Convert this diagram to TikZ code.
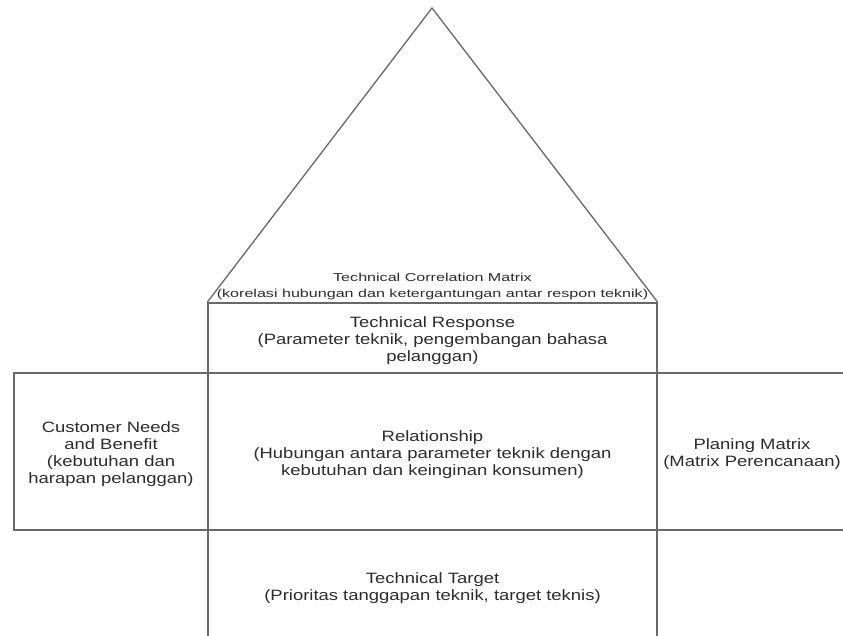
\documentclass[tikz,border=0pt]{standalone}
\usepackage{fontspec}
\setmainfont{Liberation Sans}[FakeStretch=1.23]
\newfontfamily\rooffont{Liberation Sans}[FakeStretch=1.4]
\definecolor{linegray}{HTML}{686868}
\definecolor{txtgray}{HTML}{2c2c2c}
\begin{document}
\begin{tikzpicture}[
    x=1pt, y=-1pt,
    every node/.style={align=center, text=txtgray},
    cell/.style={draw=linegray, line width=1.5pt, inner sep=0pt},
    roof line/.style={draw=linegray, line width=1.3pt},
    body text/.style={font=\fontsize{15}{17}\selectfont, yshift=-3pt},
    roof text/.style={font=\rooffont\fontsize{11.5}{16}\selectfont},
    ]
\useasboundingbox (0,0) rectangle (843,635);
\clip (0,0) rectangle (843,635);
\node[cell, minimum width=449pt, minimum height=70pt] (resp) at (432.5,338) {};
\node[cell, minimum width=194pt, minimum height=157pt] (needs) at (111,451.5) {};
\node[cell, minimum width=449pt, minimum height=157pt] (rel) at (432.5,451.5) {};
\node[cell, minimum width=190pt, minimum height=157pt] (plan) at (752,451.5) {};
\node[cell, minimum width=449pt, minimum height=110pt] (target) at (432.5,585) {};
\node[body text] (resptext) at (resp) {Technical Response\\(Parameter teknik, pengembangan bahasa\\pelanggan)};
\node[body text] (needstext) at (needs) {Customer Needs\\and Benefit\\(kebutuhan dan\\harapan pelanggan)};
\node[body text] (reltext) at (rel) {Relationship\\(Hubungan antara parameter teknik dengan\\kebutuhan dan keinginan konsumen)};
\node[body text] (plantext) at (plan) {Planing Matrix\\(Matrix Perencanaan)};
\node[body text] (targettext) at (target) {Technical Target\\(Prioritas tanggapan teknik, target teknis)};
\coordinate (apex) at (432,8);
\draw[roof line] (resp.north west) -- (apex) -- (resp.north east);
\node[roof text] (corr) at (432.5,287) {Technical Correlation Matrix\\(korelasi hubungan dan ketergantungan antar respon teknik)};
\end{tikzpicture}
\end{document}
